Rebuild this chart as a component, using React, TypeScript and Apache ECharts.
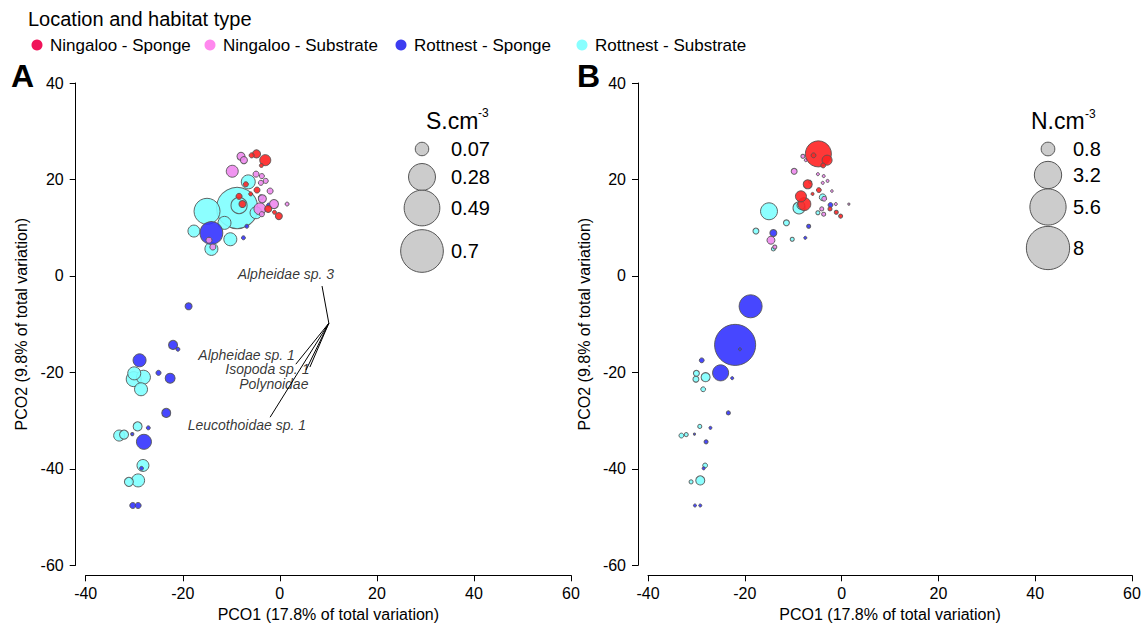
import React, { useEffect, useRef } from 'react';
import * as echarts from 'echarts';

// ---------- data ----------
const groupNames = ['Ningaloo - Sponge', 'Ningaloo - Substrate', 'Rottnest - Sponge', 'Rottnest - Substrate'];
const legendColors = ['#F0145A', '#FF88EE', '#3C3CF0', '#88FFFF'];
const pointColors = ['#FF2222', '#EE88EE', '#3333FF', '#80FFFF'];

// [PCO1, PCO2, S.cm-3, N.cm-3]
const ningalooSponge = [
  [-4.8, 25.3, 0.025, 2.9],
  [-3.0, 24.0, 0.047, 0.43],
  [-5.8, 25.0, 0.01, 0.1],
  [-3.8, 22.9, 0.006, 0.1],
  [-4.7, 17.8, 0.014, 0.1],
  [-7.0, 19.0, 0.01, 0.35],
  [-8.4, 16.5, 0.014, 0.52],
  [-7.7, 14.9, 0.019, 0.72],
  [-2.4, 13.9, 0.019, 0.07],
  [-0.2, 12.4, 0.019, 0.07],
  [-1.1, 13.2, 0.006, 0.07],
  [-6.0, 17.0, 0.006, 0.04],
];
const ningalooSubstrate = [
  [-8.0, 24.8, 0.025, 0.07],
  [-7.4, 24.0, 0.019, 0.04],
  [-9.8, 21.7, 0.055, 0.15],
  [-4.9, 21.1, 0.014, 0.04],
  [-3.7, 20.7, 0.01, 0.04],
  [-2.9, 19.7, 0.01, 0.04],
  [-3.9, 19.3, 0.01, 0.04],
  [-2.0, 17.6, 0.014, 0.03],
  [-4.1, 13.9, 0.055, 0.07],
  [-3.6, 16.0, 0.025, 0.1],
  [-1.2, 14.9, 0.031, 0.04],
  [1.5, 14.9, 0.006, 0.02],
  [-13.8, 6.0, 0.014, 0.07],
  [-14.6, 7.4, 0.014, 0.27],
  [-3.7, 12.8, 0.01, 0.07],
];
const rottnestSponge = [
  [-14.1, 8.9, 0.2, 0.21],
  [-6.8, 10.3, 0.006, 0.07],
  [-7.5, 7.9, 0.006, 0.04],
  [-2.3, 14.7, 0.006, 0.1],
  [-18.8, -6.3, 0.019, 2.26],
  [-22.0, -14.3, 0.031, 7.2],
  [-21.0, -15.2, 0.006, 0.04],
  [-28.9, -17.5, 0.065, 0.1],
  [-25.0, -20.1, 0.01, 1.1],
  [-22.6, -21.2, 0.038, 0.04],
  [-23.4, -28.4, 0.031, 0.07],
  [-27.1, -31.5, 0.006, 0.04],
  [-30.4, -32.8, 0.004, 0.02],
  [-28.0, -34.4, 0.087, 0.07],
  [-28.5, -39.9, 0.006, 0.04],
  [-30.3, -47.6, 0.014, 0.04],
  [-29.2, -47.6, 0.014, 0.04],
];
const rottnestSubstrate = [
  [-8.8, 14.1, 0.65, 0.62],
  [-15.0, 13.4, 0.26, 1.23],
  [-17.7, 9.3, 0.055, 0.15],
  [-10.2, 7.6, 0.065, 0.07],
  [-14.1, 5.6, 0.065, 0.07],
  [-11.4, 11.0, 0.065, 0.15],
  [-6.5, 19.5, 0.075, 0.04],
  [-8.4, 14.6, 0.1, 0.27],
  [-4.9, 13.1, 0.055, 0.07],
  [-3.9, 16.3, 0.01, 0.2],
  [-30.0, -20.2, 0.065, 0.15],
  [-28.1, -21.0, 0.075, 0.35],
  [-30.1, -21.4, 0.087, 0.15],
  [-28.6, -23.5, 0.065, 0.1],
  [-29.3, -31.2, 0.031, 0.07],
  [-33.1, -33.1, 0.047, 0.1],
  [-32.1, -32.9, 0.031, 0.07],
  [-28.2, -39.3, 0.055, 0.1],
  [-29.2, -42.4, 0.065, 0.35],
  [-31.1, -42.7, 0.031, 0.07],
];
const groupData = [ningalooSponge, ningalooSubstrate, rottnestSponge, rottnestSubstrate];

const sLegendValues = [0.07, 0.28, 0.49, 0.7];
const nLegendValues = [0.8, 3.2, 5.6, 8];

const vectorNames = ['Alpheidae sp. 3', 'Alpheidae sp. 1', 'Isopoda sp. 1', 'Polynoidae', 'Leucothoidae sp. 1'];
const vectorOrigin = [10.1, -9.8];
const vectorEnds = [[8.7, -2.1], [3.3, -18.3], [5.4, -19.5], [6.2, -18.9], [-2.0, -29.3]];
const vectorLabelPos = [[11.2, 0.3], [3.1, -16.3], [6.1, -19.4], [5.9, -22.5], [5.4, -31.0]];

const xAxisTitle = 'PCO1 (17.8% of total variation)';
const yAxisTitle = 'PCO2 (9.8% of total variation)';

// ---------- styling ----------
const FONT = 'Liberation Sans, Arial, sans-serif';
const sizeS = (v: number) => 51 * Math.sqrt(v);
const sizeN = (v: number) => 15.3 * Math.sqrt(v);

function axisPair(gridIndex: number) {
  const common = {
    gridIndex,
    type: 'value',
    offset: 10,
    interval: 20,
    axisLine: { show: true, onZero: false, lineStyle: { color: '#000', width: 1 } },
    axisTick: { show: true, length: 6, lineStyle: { color: '#000', width: 1 } },
    splitLine: { show: false },
    nameLocation: 'middle',
    nameTextStyle: { color: '#000', fontSize: 16, fontFamily: FONT },
  };
  return {
    x: {
      ...common,
      min: -40,
      max: 60,
      name: xAxisTitle,
      nameGap: 30,
      axisLabel: { color: '#000', fontSize: 16, fontFamily: FONT, margin: 10 },
    },
    y: {
      ...common,
      min: -60,
      max: 40,
      name: yAxisTitle,
      nameGap: 46,
      axisLabel: { color: '#000', fontSize: 16, fontFamily: FONT, margin: 12 },
    },
  };
}

function buildOption() {
  const a = axisPair(0);
  const b = axisPair(1);
  const series: any[] = [];
  const drawOrder = [3, 2, 1, 0];
  [0, 1].forEach((panel) => {
    drawOrder.forEach((g) => {
      const idx = panel === 0 ? 2 : 3;
      const sizeFn = panel === 0 ? sizeS : sizeN;
      const data = [...groupData[g]].sort((p, q) => q[idx] - p[idx]).map((p) => [p[0], p[1], p[idx]]);
      series.push({
        type: 'scatter',
        name: groupNames[g],
        xAxisIndex: panel,
        yAxisIndex: panel,
        data,
        symbol: 'circle',
        symbolSize: (val: number[]) => Math.max(2, sizeFn(val[2])),
        itemStyle: { color: pointColors[g], borderColor: '#555', borderWidth: 1, opacity: 0.9 },
        emphasis: { disabled: true },
        silent: true,
      });
    });
  });
  series.push({
    type: 'lines',
    coordinateSystem: 'cartesian2d',
    xAxisIndex: 0,
    yAxisIndex: 0,
    data: vectorEnds.map((e) => ({ coords: [vectorOrigin, e] })),
    lineStyle: { color: '#000', width: 1, opacity: 1 },
    silent: true,
  });
  series.push({
    type: 'scatter',
    xAxisIndex: 0,
    yAxisIndex: 0,
    symbolSize: 0,
    data: vectorLabelPos.map((p, i) => ({ value: p, name: vectorNames[i] })),
    label: {
      show: true,
      position: 'left',
      distance: 0,
      formatter: '{b}',
      fontStyle: 'italic',
      fontSize: 14,
      lineHeight: 12,
      fontFamily: FONT,
      color: '#000',
    },
    labelLayout: { hideOverlap: false },
    silent: true,
  });

  const graphic: any[] = [];
  // top legend
  graphic.push({ type: 'text', left: 28, top: 9, style: { text: 'Location and habitat type', fontSize: 20, fontFamily: FONT, fill: '#000' } });
  const legX = [37, 210, 401, 582];
  groupNames.forEach((n, i) => {
    graphic.push({ type: 'circle', shape: { cx: legX[i], cy: 45, r: 5.5 }, style: { fill: legendColors[i] } });
    graphic.push({ type: 'text', x: legX[i] + 13, y: 45, style: { text: n, fontSize: 17, fontFamily: FONT, fill: '#000', verticalAlign: 'middle' } });
  });
  // panel letters
  graphic.push({ type: 'text', x: 11, y: 76, style: { text: 'A', fontSize: 32, fontWeight: 'bold', fontFamily: FONT, fill: '#000', verticalAlign: 'middle' } });
  graphic.push({ type: 'text', x: 577, y: 76, style: { text: 'B', fontSize: 32, fontWeight: 'bold', fontFamily: FONT, fill: '#000', verticalAlign: 'middle' } });

  // size legends
  const sizeLegend = (title: string, vals: number[], fn: (v: number) => number, cx: number, titleX: number, ys: number[], labelX: number) => {
    graphic.push({ type: 'text', x: titleX, y: 121, style: { text: title, fontSize: 23, fontFamily: FONT, fill: '#000', verticalAlign: 'middle' } });
    vals.forEach((v, i) => {
      graphic.push({ type: 'circle', shape: { cx, cy: ys[i], r: fn(v) / 2 }, style: { fill: '#CCCCCC', stroke: '#555', lineWidth: 1 } });
      graphic.push({ type: 'text', x: labelX, y: ys[i], style: { text: String(v), fontSize: 20, fontFamily: FONT, fill: '#000', verticalAlign: 'middle' } });
    });
  };
  sizeLegend('S.cm', sLegendValues, sizeS, 422, 426, [149, 177, 208, 251], 451);
  graphic.push({ type: 'text', x: 478, y: 107, style: { text: '-3', fontSize: 12, fontFamily: FONT, fill: '#000' } });
  sizeLegend('N.cm', nLegendValues, sizeN, 1048, 1031, [149, 175, 207, 248], 1073);
  graphic.push({ type: 'text', x: 1085, y: 108, style: { text: '-3', fontSize: 12, fontFamily: FONT, fill: '#000' } });

  return {
    animation: false,
    backgroundColor: '#fff',
    textStyle: { fontFamily: FONT },
    grid: [
      { left: 85.7, top: 83, width: 485.3, height: 482.3 },
      { left: 648, top: 83, width: 484, height: 482.3 },
    ],
    xAxis: [a.x, b.x],
    yAxis: [a.y, b.y],
    series,
    graphic,
  };
}

export default function App() {
  const ref = useRef<HTMLDivElement>(null);
  useEffect(() => {
    document.body.style.margin = '0';
    const chart = echarts.init(ref.current as HTMLDivElement, null, { renderer: 'svg' });
    chart.setOption(buildOption() as any);
    return () => chart.dispose();
  }, []);
  return <div ref={ref} style={{ width: 1148, height: 628 }} />;
}
